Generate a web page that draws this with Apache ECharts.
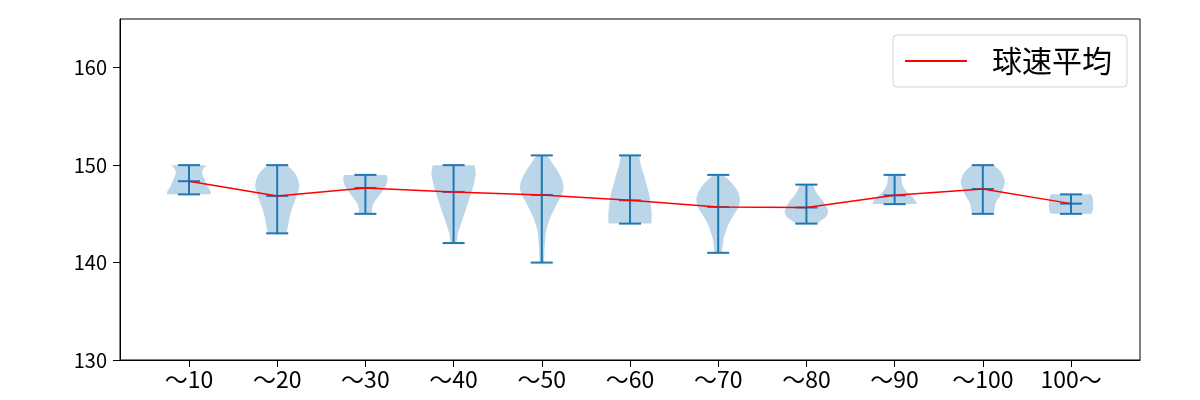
<!DOCTYPE html>
<html>
<head>
<meta charset="utf-8">
<script src="https://cdn.jsdelivr.net/npm/echarts@6/dist/echarts.min.js"></script>
<style>
html,body{margin:0;padding:0;background:#fff;}
#chart{width:1200px;height:400px;}
</style>
</head>
<body>
<div id="chart"></div>
<script>
// ---- data ----
const categories = ['〜10','〜20','〜30','〜40','〜50','〜60','〜70','〜80','〜90','〜100','100〜'];
const meanSpeed = [148.35,146.84,147.66,147.25,146.94,146.39,145.7,145.65,146.9,147.55,146.05];
const minSpeed  = [147,143,145,142,140,144,141,144,146,145,145];
const maxSpeed  = [150,150,149,150,151,151,149,148,149,150,147];
const yTicks = [130,140,150,160];
// relative violin half-width (1 = widest) at given speeds, per category
const density10  = [[147.0,1.0],[147.3,0.98],[147.6,0.9],[148.0,0.8],[148.5,0.72],[149.0,0.62],[149.4,0.6],[149.7,0.68],[150.0,0.79]];
const density20  = [[143.0,0.42],[143.5,0.47],[144.3,0.53],[145.0,0.6],[145.6,0.68],[146.3,0.8],[146.8,0.88],[147.3,0.95],[147.8,1.0],[148.3,0.97],[148.8,0.9],[149.1,0.83],[149.5,0.68],[150.0,0.45]];
const density30  = [[145.0,0.3],[145.5,0.3],[146.0,0.35],[146.5,0.5],[147.0,0.67],[147.5,0.83],[148.0,0.95],[148.5,1.0],[148.8,0.99],[149.0,0.95]];
const density40  = [[142.0,0.13],[142.5,0.17],[143.0,0.2],[144.3,0.38],[145.6,0.58],[147.0,0.78],[148.0,0.91],[149.0,1.0],[149.5,0.99],[150.0,0.95]];
const density50  = [[140.0,0.1],[140.5,0.11],[141.2,0.12],[142.0,0.14],[142.8,0.17],[143.4,0.21],[144.1,0.3],[144.8,0.42],[145.4,0.55],[146.0,0.68],[146.5,0.8],[147.0,0.92],[147.5,0.98],[148.0,0.98],[148.6,0.9],[149.2,0.77],[149.8,0.6],[150.3,0.45],[150.7,0.33],[151.0,0.23]];
const density60  = [[144.0,0.96],[144.3,0.98],[145.0,0.98],[145.8,0.95],[146.5,0.91],[147.2,0.85],[147.9,0.76],[148.6,0.68],[149.2,0.6],[149.9,0.5],[150.5,0.45],[151.0,0.42]];
const density70  = [[141.0,0.17],[141.5,0.19],[142.4,0.24],[143.0,0.32],[143.8,0.44],[144.5,0.6],[145.1,0.76],[145.6,0.9],[146.2,0.98],[146.7,0.98],[147.2,0.91],[147.7,0.78],[148.2,0.6],[148.6,0.42],[149.0,0.23]];
const density80  = [[144.0,0.5],[144.2,0.6],[144.6,0.85],[145.0,0.96],[145.3,0.98],[145.8,0.9],[146.3,0.76],[146.8,0.58],[147.2,0.45],[147.6,0.36],[148.0,0.3]];
const density90  = [[146.0,1.0],[146.2,0.98],[146.5,0.9],[146.7,0.82],[147.0,0.65],[147.4,0.5],[147.8,0.38],[148.2,0.33],[148.6,0.31],[149.0,0.3]];
const density100 = [[145.0,0.5],[145.5,0.53],[146.2,0.6],[146.7,0.75],[147.2,0.85],[147.7,0.94],[148.2,1.0],[148.7,0.96],[149.1,0.88],[149.5,0.75],[150.0,0.5]];
const density100p= [[145.0,0.9],[145.2,0.96],[145.6,1.0],[146.0,1.0],[146.4,1.0],[146.8,0.96],[147.0,0.9]];
const densities = [density10,density20,density30,density40,density50,density60,density70,density80,density90,density100,density100p];

const positions = categories.map((c,i)=>i+1);
const VIOLIN_HALF = 0.25;   // half of violin width (x units)
const CAP_HALF = 0.125;     // half of cap length (x units)
const BLUE = '#1f77b4';

function smoothPath(pts){
  // Catmull-Rom through pts -> cubic bezier segments (render-time smoothing)
  let d = '';
  for (let i=0;i<pts.length-1;i++){
    const p0 = pts[Math.max(i-1,0)], p1 = pts[i], p2 = pts[i+1], p3 = pts[Math.min(i+2,pts.length-1)];
    const c1 = [p1[0]+(p2[0]-p0[0])/6, p1[1]+(p2[1]-p0[1])/6];
    const c2 = [p2[0]-(p3[0]-p1[0])/6, p2[1]-(p3[1]-p1[1])/6];
    d += ' C'+c1[0]+','+c1[1]+' '+c2[0]+','+c2[1]+' '+p2[0]+','+p2[1];
  }
  return d;
}

function renderViolin(params, api){
  const i = params.dataIndex;
  const pos = api.value(0), lo = api.value(1), hi = api.value(2), mu = api.value(3);
  const prof = densities[i];
  const right = prof.map(p=>api.coord([pos + p[1]*VIOLIN_HALF, p[0]]));
  const left = prof.map(p=>api.coord([pos - p[1]*VIOLIN_HALF, p[0]])).reverse();
  let d = 'M'+right[0][0]+','+right[0][1] + smoothPath(right);
  d += ' L'+left[0][0]+','+left[0][1] + smoothPath(left) + ' Z';
  const top = api.coord([pos, hi]), bot = api.coord([pos, lo]);
  const capL = api.coord([pos-CAP_HALF, hi])[0], capR = api.coord([pos+CAP_HALF, hi])[0];
  const m = api.coord([pos, mu]);
  const ls = {stroke: BLUE, lineWidth: 2};
  return {
    type:'group',
    children:[
      {type:'path', shape:{pathData:d}, style:{fill:'rgba(31,119,180,0.3)', stroke:null}},
      {type:'line', shape:{x1:top[0],y1:top[1],x2:bot[0],y2:bot[1]}, style:ls},
      {type:'line', shape:{x1:capL,y1:top[1],x2:capR,y2:top[1]}, style:ls},
      {type:'line', shape:{x1:capL,y1:bot[1],x2:capR,y2:bot[1]}, style:ls},
      {type:'line', shape:{x1:capL,y1:m[1],x2:capR,y2:m[1]}, style:ls}
    ]
  };
}

const chart = echarts.init(document.getElementById('chart'), null, {renderer:'canvas'});
const FONT = '"Noto Sans CJK JP", "Noto Sans", sans-serif';
chart.setOption({
  animation:false,
  backgroundColor:'#fff',
  grid:{left:120, right:60, top:19, bottom:40, show:true, borderColor:'#000', borderWidth:1, backgroundColor:'transparent'},
  xAxis:{
    type:'value', min:0.218, max:11.782,
    axisLine:{show:true, lineStyle:{color:'#000', width:1}},
    axisTick:{show:true, length:7, lineStyle:{color:'#000'}, customValues:positions},
    axisLabel:{customValues:positions, formatter:v=>categories[Math.round(v)-1]||'', color:'#000', fontSize:23, fontFamily:FONT, margin:8},
    splitLine:{show:false}
  },
  yAxis:{
    type:'value', min:130, max:165,
    axisLine:{show:true, lineStyle:{color:'#000', width:1}},
    axisTick:{show:true, length:7, lineStyle:{color:'#000'}, customValues:yTicks},
    axisLabel:{customValues:yTicks, color:'#000', fontSize:20, fontFamily:FONT, margin:13},
    splitLine:{show:false}
  },
  legend:{
    data:[{name:'球速平均', icon:'rect'}],
    left:893, top:35,
    itemWidth:62, itemHeight:2,
    padding:[11,15,11,12],
    backgroundColor:'rgba(255,255,255,0.8)',
    borderColor:'#d0d0d0', borderWidth:1, borderRadius:4,
    textStyle:{fontSize:30, fontFamily:FONT, color:'#000', padding:[0,0,0,20]}
  },
  series:[
    {
      type:'custom',
      renderItem:renderViolin,
      data:positions.map((p,i)=>[p, minSpeed[i], maxSpeed[i], meanSpeed[i]]),
      encode:{x:0, y:[1,2]},
      z:2,
      silent:true
    },
    {
      name:'球速平均',
      type:'line',
      data:positions.map((p,i)=>[p, meanSpeed[i]]),
      color:'#ff0000',
      lineStyle:{color:'#ff0000', width:1.5},
      showSymbol:false, symbol:'none',
      z:5
    }
  ]
});
</script>
</body>
</html>
